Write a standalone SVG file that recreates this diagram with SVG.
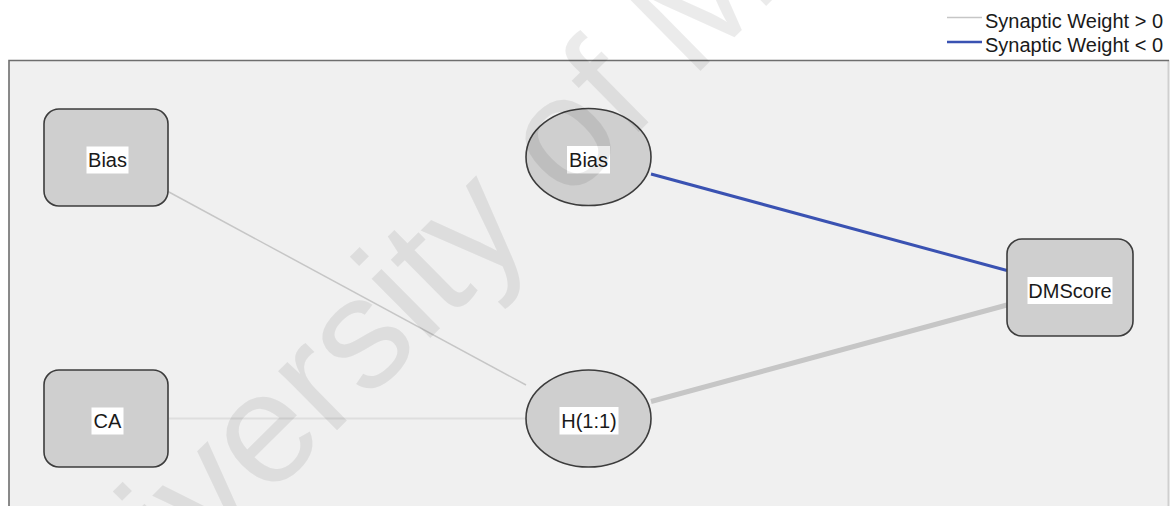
<svg xmlns="http://www.w3.org/2000/svg" width="1176" height="506" viewBox="0 0 1176 506">
  <style>
    .frame { fill: #f0f0f0; stroke: none; }
    .border { stroke: #6e6e6e; stroke-width: 1.6; fill: none; }
    .node { fill: #cfcfcf; stroke: #3c3c3c; stroke-width: 1.6; }
    .tag { fill: #ffffff; }
    .label { font-family: "Liberation Sans", Arial, sans-serif; font-size: 20px; fill: #1a1a1a; text-anchor: middle; }
    .legend { font-family: "Liberation Sans", Arial, sans-serif; font-size: 20px; fill: #1a1a1a; }
    .pos { stroke: #c6c6c6; fill: none; }
    .neg { stroke: #3a52b2; fill: none; }
    .mark { font-family: "Liberation Sans", Arial, sans-serif; font-size: 158px; fill: #000000; fill-opacity: 0.08; }
  </style>

  <rect width="1176" height="506" fill="#ffffff"/>

  <!-- legend -->
  <g id="legend">
    <line class="pos" x1="947" y1="17.5" x2="982" y2="17.5" stroke-width="1.6"/>
    <text class="legend" x="985" y="28">Synaptic Weight &gt; 0</text>
    <line class="neg" x1="947" y1="42" x2="982" y2="42" stroke-width="2.4"/>
    <text class="legend" x="985" y="51.5">Synaptic Weight &lt; 0</text>
  </g>

  <!-- plot frame -->
  <rect class="frame" x="9" y="60" width="1160" height="460"/>
  <line x1="1168.5" y1="60" x2="1168.5" y2="506" stroke="#cfcfcf" stroke-width="2"/>
  <path class="border" d="M9,520 V60.5 H1169"/>

  <!-- synaptic connections -->
  <g id="connectors">
    <line class="pos" x1="168" y1="191.5" x2="526" y2="385" stroke-width="1.5"/>
    <line x1="169" y1="418.5" x2="526" y2="418.5" stroke="#dedede" stroke-width="2"/>
    <line class="neg" x1="651" y1="174" x2="1007" y2="270.5" stroke-width="3"/>
    <line class="pos" x1="651" y1="401.5" x2="1007" y2="305" stroke-width="5"/>
  </g>

  <!-- input layer -->
  <g id="in-bias">
    <rect class="node" x="44" y="109" width="124" height="97" rx="15"/>
    <rect class="tag" x="86.5" y="146.5" width="42" height="27"/>
    <text class="label" x="107.5" y="167">Bias</text>
  </g>
  <g id="in-ca">
    <rect class="node" x="44" y="370" width="124" height="97" rx="15"/>
    <rect class="tag" x="91.5" y="407.5" width="32" height="27"/>
    <text class="label" x="107.5" y="428">CA</text>
  </g>

  <!-- hidden layer -->
  <g id="hid-bias">
    <ellipse class="node" cx="588.5" cy="157" rx="62.5" ry="48.5"/>
    <rect class="tag" x="567" y="146" width="43" height="27.5"/>
    <text class="label" x="588.5" y="167">Bias</text>
  </g>
  <g id="hid-h11">
    <ellipse class="node" cx="588.5" cy="418.5" rx="62.5" ry="48.5"/>
    <rect class="tag" x="559.5" y="407" width="59" height="27.5"/>
    <text class="label" x="589" y="428">H(1:1)</text>
  </g>

  <!-- output layer -->
  <g id="out-dmscore">
    <rect class="node" x="1007" y="239" width="126" height="97" rx="15"/>
    <rect class="tag" x="1027.5" y="277" width="85" height="27"/>
    <text class="label" x="1070" y="297.5">DMScore</text>
  </g>

  <!-- repository watermark -->
  <g id="watermark">
    <text class="mark" transform="translate(42.1,722.2) rotate(-44.7)">University of Malaya</text>
  </g>
</svg>
